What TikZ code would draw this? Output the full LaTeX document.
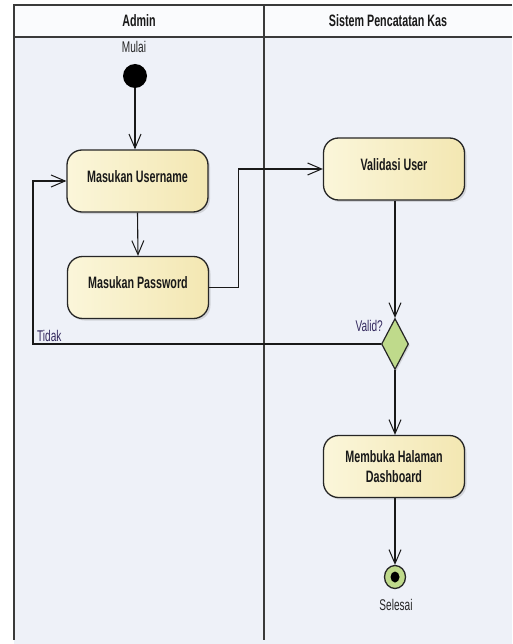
\documentclass[tikz,border=0pt]{standalone}
\usepackage{fontspec}
\setmainfont{Liberation Sans}[FakeStretch=0.65]
\usetikzlibrary{arrows.meta,shapes.geometric,shadows}

\definecolor{lanebg}{HTML}{EEF1F8}
\definecolor{headbg}{HTML}{FAFBFD}
\definecolor{laneline}{HTML}{3A3A3A}
\definecolor{actleft}{HTML}{FBF6DA}
\definecolor{actright}{HTML}{F3E7B2}
\definecolor{guardgreen}{HTML}{BFDA8B}
\definecolor{labelink}{HTML}{33295E}

\tikzset{
  lane/.style={draw=laneline, line width=1.8pt},
  activity/.style={rectangle, rounded corners=15pt, draw=black!85, line width=1.3pt,
    left color=actleft, right color=actright, minimum width=141pt, minimum height=62pt,
    align=center, font=\fontsize{16.5}{20}\selectfont\bfseries, text=black!90,
    drop shadow={shadow xshift=2pt, shadow yshift=-2pt, opacity=0.25}},
  decision/.style={diamond, draw=black!85, line width=1.2pt, fill=guardgreen,
    minimum width=27pt, minimum height=51pt, inner sep=0pt,
    drop shadow={shadow xshift=1.5pt, shadow yshift=-1.5pt, opacity=0.25}},
  initial/.style={circle, fill=black, minimum size=24pt, inner sep=0pt},
  final/.style={ellipse, draw=black!85, line width=1.3pt, fill=guardgreen,
    minimum width=21pt, minimum height=23pt, inner sep=0pt},
  finaldot/.style={ellipse, fill=black, minimum width=9pt, minimum height=11pt, inner sep=0pt},
  flow/.style={draw=black!90, line width=1.1pt,
    -{Straight Barb[length=14pt,width=12pt,line width=1pt]}},
  caption/.style={font=\fontsize{15.5}{17}\selectfont, text=black!85, inner sep=0pt},
  guard/.style={font=\fontsize{15.5}{17}\selectfont, text=labelink, inner sep=0pt},
  lanehead/.style={font=\fontsize{16.5}{18}\selectfont\bfseries, text=black!90}
}

\begin{document}
\begin{tikzpicture}[x=1pt, y=-1pt]
  \useasboundingbox (0,0) rectangle (512,644);
  \fill[white] (0,0) rectangle (512,644);

  % swimlanes
  \fill[lanebg] (14,5) rectangle (512,644);
  \fill[headbg] (14,5) rectangle (512,37);
  \draw[lane] (512,5) -- (14,5) -- (14,640);
  \draw[lane] (14,37) -- (512,37);
  \draw[lane] (264,5) -- (264,640);
  \node[lanehead] (hadmin) at (139,21) {Admin};
  \node[lanehead] (hsys) at (388,21) {Sistem Pencatatan Kas};

  % start
  \node[initial] (start) at (135,76) {};
  \node[caption] (startlbl) at (134,47) {Mulai};

  % activities
  \node[activity] (user) at (137.5,181) {\raisebox{9pt}{Masukan Username}};
  \node[activity] (pass) at (138,287.5) {\raisebox{9pt}{Masukan Password}};
  \node[activity] (val)  at (394,169) {\raisebox{8pt}{Validasi User}};
  \node[decision] (dec)  at (395,344) {};
  \node[guard, anchor=south east] (validlbl) at (383,332) {Valid?};
  \node[activity] (dash) at (394,466.5) {\raisebox{-3pt}{\parbox{130pt}{\centering Membuka Halaman\\[0pt]Dashboard}}};

  % end
  \node[final] (end) at (395,577) {};
  \node[finaldot] (enddot) at (end.center) {};
  \node[caption] (endlbl) at (396,605) {Selesai};

  % control flow
  \coordinate (loop) at (33,344);
  \draw[flow] (start.south) -- (start.south |- user.north);
  \draw[flow] (user.south) -- (pass.north);
  \draw[flow] (pass.east) -- ++(29,0) |- (val.west);
  \draw[flow] (val.south -| dec.north) -- (dec.north);
  \draw[flow] (dec.west) -- (loop) |- (user.west);
  \node[guard, anchor=south west] (tidaklbl) at (37,342) {Tidak};
  \draw[flow] (dec.south) -- (dash.north -| dec.south);
  \draw[flow] (dash.south -| end.north) -- (end.north);
\end{tikzpicture}
\end{document}
